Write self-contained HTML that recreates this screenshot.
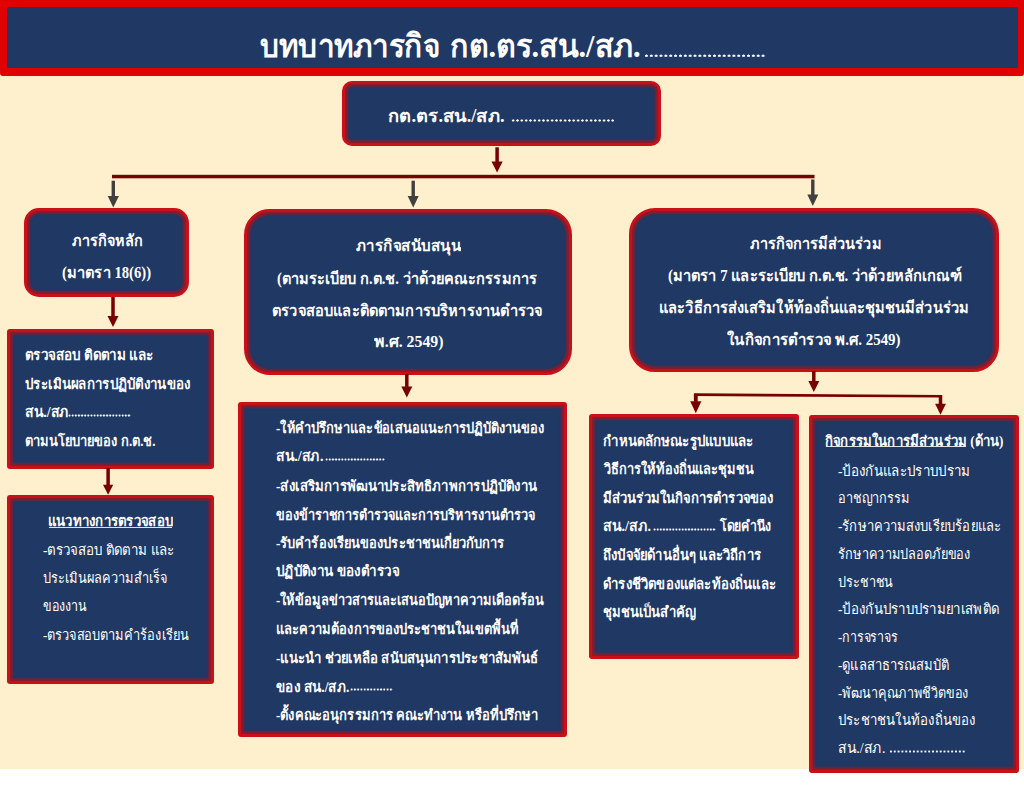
<!DOCTYPE html>
<html><head><meta charset="utf-8"><title>บทบาทภารกิจ กต.ตร.สน./สภ.</title>
<style>
html,body{margin:0;padding:0;width:1024px;height:791px;overflow:hidden;background:#fff;}
body{position:relative;font-family:"Liberation Serif",serif;}
.cream{position:absolute;left:0;top:0;width:1024px;height:769px;background:#fef0cd;}
.banner{position:absolute;left:0;top:0;width:1024px;height:76.4px;box-sizing:border-box;background:#1f3864;border-style:solid;border-color:#e00000;border-width:7.3px 6.5px 8px 7px;border-radius:0 0 3px 3px;}
.bx{position:absolute;box-sizing:border-box;background:#1f3864;border:3.5px solid #c90f17;box-shadow:inset 0 0 2px 2.6px #8e1a2a;}
.t{position:absolute;white-space:nowrap;color:#fff;line-height:40px;height:40px;}
.t span{display:inline-block;transform-origin:0 50%;}
.ul{position:absolute;background:rgba(255,255,255,0.85);}
.dt{position:absolute;background-repeat:repeat-x;background-position:0 0;}
svg{position:absolute;left:0;top:0;}
</style></head><body>
<div class="cream"></div>
<div class="banner"></div>

<div class="bx" style="left:341.5px;top:81.2px;width:319.5px;height:64.8px;border-radius:10px"></div>
<div class="bx" style="left:24.2px;top:208.2px;width:164.8px;height:89.3px;border-radius:15px"></div>
<div class="bx" style="left:244.0px;top:209.4px;width:327.6px;height:165.6px;border-radius:26px"></div>
<div class="bx" style="left:629.2px;top:208.2px;width:369.8px;height:163.8px;border-radius:26px"></div>
<div class="bx" style="left:7.2px;top:328.8px;width:206.5px;height:140.0px;border-radius:3px"></div>
<div class="bx" style="left:6.9px;top:495.2px;width:206.9px;height:189.3px;border-radius:3px"></div>
<div class="bx" style="left:238.4px;top:401.5px;width:328.2px;height:335.3px;border-radius:3px"></div>
<div class="bx" style="left:588.5px;top:414.0px;width:210.5px;height:244.7px;border-radius:3px"></div>
<div class="bx" style="left:809.2px;top:415.0px;width:210.3px;height:357.6px;border-radius:3px"></div>
<svg width="1024" height="791" viewBox="0 0 1024 791"><rect x="495.35" y="147.30" width="3.50" height="14.70" fill="#770000"/><polygon points="491.50,161.50 502.70,161.50 497.10,172.50" fill="#770000"/><rect x="112" y="174.8" width="702.5" height="3.5" fill="#770000"/><rect x="111.60" y="180.70" width="3.40" height="15.70" fill="#404040"/><polygon points="107.70,195.90 118.90,195.90 113.30,207.40" fill="#404040"/><rect x="411.50" y="180.70" width="3.40" height="15.70" fill="#404040"/><polygon points="407.70,195.90 418.70,195.90 413.20,207.40" fill="#404040"/><rect x="811.10" y="179.50" width="3.40" height="15.50" fill="#404040"/><polygon points="807.30,194.50 818.30,194.50 812.80,206.00" fill="#404040"/><rect x="111.25" y="297.00" width="3.50" height="19.50" fill="#770000"/><polygon points="107.50,316.00 118.50,316.00 113.00,327.00" fill="#770000"/><rect x="106.35" y="468.00" width="3.50" height="17.30" fill="#770000"/><polygon points="103.00,484.80 113.20,484.80 108.10,494.80" fill="#770000"/><rect x="405.05" y="374.00" width="3.50" height="12.90" fill="#770000"/><polygon points="401.30,386.40 412.30,386.40 406.80,397.40" fill="#770000"/><rect x="812.05" y="371.00" width="3.50" height="10.60" fill="#770000"/><polygon points="808.30,381.10 819.30,381.10 813.80,392.10" fill="#770000"/><polygon points="694,393.3 941.8,395 941.8,397.4 694,396" fill="#770000"/><rect x="693.90" y="394.00" width="3.80" height="7.70" fill="#770000"/><polygon points="690.20,401.20 701.40,401.20 695.80,413.20" fill="#770000"/><rect x="938.75" y="395.00" width="3.50" height="9.20" fill="#770000"/><polygon points="935.10,403.70 945.90,403.70 940.50,414.70" fill="#770000"/></svg>
<div class="t" style="left:259.50px;top:26.0px;width:180.00px;font-size:32.5px;font-weight:bold"><span style="transform:scaleX(0.9137)">บทบาทภารกิจ</span></div>
<div class="t" style="left:450.00px;top:26.0px;width:190.50px;font-size:32.5px;font-weight:bold"><span style="transform:scaleX(0.9360)">กต.ตร.สน./สภ.</span></div>
<div class="t" style="left:388.00px;top:96.1px;width:116.50px;font-size:18.0px;font-weight:bold"><span style="transform:scaleX(1.0218)">กต.ตร.สน./สภ.</span></div>
<div class="t" style="left:72.00px;top:221.2px;width:71.00px;font-size:16.0px;font-weight:bold"><span style="transform:scaleX(0.8987)">ภารกิจหลัก</span></div>
<div class="t" style="left:62.00px;top:253.0px;width:89.00px;font-size:16.0px;font-weight:bold"><span style="transform:scaleX(0.9146)">(มาตรา 18(6))</span></div>
<div class="t" style="left:355.50px;top:226.0px;width:105.00px;font-size:16.0px;font-weight:bold"><span style="transform:scaleX(0.9459)">ภารกิจสนับสนุน</span></div>
<div class="t" style="left:276.50px;top:258.5px;width:260.00px;font-size:16.0px;font-weight:bold"><span style="transform:scaleX(0.9080)">(ตามระเบียบ ก.ต.ช. ว่าด้วยคณะกรรมการ</span></div>
<div class="t" style="left:271.50px;top:290.8px;width:270.50px;font-size:16.0px;font-weight:bold"><span style="transform:scaleX(0.9139)">ตรวจสอบและติดตามการบริหารงานตำรวจ</span></div>
<div class="t" style="left:374.00px;top:321.8px;width:69.50px;font-size:16.0px;font-weight:bold"><span style="transform:scaleX(0.9882)">พ.ศ. 2549)</span></div>
<div class="t" style="left:749.50px;top:224.0px;width:131.50px;font-size:16.0px;font-weight:bold"><span style="transform:scaleX(0.9007)">ภารกิจการมีส่วนร่วม</span></div>
<div class="t" style="left:667.50px;top:256.3px;width:293.50px;font-size:16.0px;font-weight:bold"><span style="transform:scaleX(0.9134)">(มาตรา 7 และระเบียบ ก.ต.ช. ว่าด้วยหลักเกณฑ์</span></div>
<div class="t" style="left:659.00px;top:288.4px;width:310.00px;font-size:16.0px;font-weight:bold"><span style="transform:scaleX(0.9091)">และวิธีการส่งเสริมให้ท้องถิ่นและชุมชนมีส่วนร่วม</span></div>
<div class="t" style="left:727.00px;top:320.3px;width:173.50px;font-size:16.0px;font-weight:bold"><span style="transform:scaleX(0.9312)">ในกิจการตำรวจ พ.ศ. 2549)</span></div>
<div class="t" style="left:25.00px;top:335.3px;width:128.50px;font-size:14.5px;font-weight:bold"><span style="transform:scaleX(0.9295)">ตรวจสอบ ติดตาม และ</span></div>
<div class="t" style="left:25.00px;top:363.7px;width:165.50px;font-size:14.5px;font-weight:bold"><span style="transform:scaleX(0.9194)">ประเมินผลการปฏิบัติงานของ</span></div>
<div class="t" style="left:25.00px;top:392.0px;width:44.00px;font-size:14.5px;font-weight:bold"><span style="transform:scaleX(0.9637)">สน./สภ</span></div>
<div class="t" style="left:25.00px;top:421.1px;width:130.50px;font-size:14.5px;font-weight:bold"><span style="transform:scaleX(0.8908)">ตามนโยบายของ ก.ต.ช.</span></div>
<div class="t" style="left:47.50px;top:501.4px;width:125.00px;font-size:14.5px;font-weight:bold"><span style="transform:scaleX(0.9124)">แนวทางการตรวจสอบ</span></div>
<div class="t" style="left:43.00px;top:530.3px;width:131.50px;font-size:14.5px;font-weight:normal"><span style="transform:scaleX(0.9190)">-ตรวจสอบ ติดตาม และ</span></div>
<div class="t" style="left:43.00px;top:558.1px;width:124.50px;font-size:14.5px;font-weight:normal"><span style="transform:scaleX(0.8830)">ประเมินผลความสำเร็จ</span></div>
<div class="t" style="left:43.00px;top:585.5px;width:44.00px;font-size:14.5px;font-weight:normal"><span style="transform:scaleX(0.8627)">ของงาน</span></div>
<div class="t" style="left:43.00px;top:614.7px;width:146.00px;font-size:14.5px;font-weight:normal"><span style="transform:scaleX(0.8857)">-ตรวจสอบตามคำร้องเรียน</span></div>
<div class="t" style="left:275.50px;top:408.1px;width:268.00px;font-size:14.5px;font-weight:bold"><span style="transform:scaleX(0.8879)">-ให้คำปรึกษาและข้อเสนอแนะการปฏิบัติงานของ</span></div>
<div class="t" style="left:275.50px;top:436.4px;width:47.50px;font-size:14.5px;font-weight:bold"><span style="transform:scaleX(0.9639)">สน./สภ.</span></div>
<div class="t" style="left:275.50px;top:465.5px;width:261.00px;font-size:14.5px;font-weight:bold"><span style="transform:scaleX(0.9099)">-ส่งเสริมการพัฒนาประสิทธิภาพการปฏิบัติงาน</span></div>
<div class="t" style="left:275.50px;top:494.5px;width:259.50px;font-size:14.5px;font-weight:bold"><span style="transform:scaleX(0.8767)">ของข้าราชการตำรวจและการบริหารงานตำรวจ</span></div>
<div class="t" style="left:275.50px;top:522.9px;width:228.50px;font-size:14.5px;font-weight:bold"><span style="transform:scaleX(0.8896)">-รับคำร้องเรียนของประชาชนเกี่ยวกับการ</span></div>
<div class="t" style="left:275.50px;top:551.0px;width:123.00px;font-size:14.5px;font-weight:bold"><span style="transform:scaleX(0.9274)">ปฏิบัติงาน ของตำรวจ</span></div>
<div class="t" style="left:275.50px;top:580.4px;width:268.00px;font-size:14.5px;font-weight:bold"><span style="transform:scaleX(0.8820)">-ให้ข้อมูลข่าวสารและเสนอปัญหาความเดือดร้อน</span></div>
<div class="t" style="left:275.50px;top:609.2px;width:242.50px;font-size:14.5px;font-weight:bold"><span style="transform:scaleX(0.8915)">และความต้องการของประชาชนในเขตพื้นที่</span></div>
<div class="t" style="left:275.50px;top:638.1px;width:262.50px;font-size:14.5px;font-weight:bold"><span style="transform:scaleX(0.9080)">-แนะนำ ช่วยเหลือ สนับสนุนการประชาสัมพันธ์</span></div>
<div class="t" style="left:275.50px;top:666.5px;width:73.50px;font-size:14.5px;font-weight:bold"><span style="transform:scaleX(0.9315)">ของ สน./สภ.</span></div>
<div class="t" style="left:275.50px;top:694.7px;width:262.00px;font-size:14.5px;font-weight:bold"><span style="transform:scaleX(0.8939)">-ตั้งคณะอนุกรรมการ คณะทำงาน หรือที่ปรึกษา</span></div>
<div class="t" style="left:602.50px;top:420.5px;width:150.50px;font-size:14.5px;font-weight:bold"><span style="transform:scaleX(0.9121)">กำหนดลักษณะรูปแบบและ</span></div>
<div class="t" style="left:603.50px;top:449.1px;width:149.50px;font-size:14.5px;font-weight:bold"><span style="transform:scaleX(0.8794)">วิธีการให้ท้องถิ่นและชุมชน</span></div>
<div class="t" style="left:602.50px;top:477.8px;width:170.50px;font-size:14.5px;font-weight:bold"><span style="transform:scaleX(0.9021)">มีส่วนร่วมในกิจการตำรวจของ</span></div>
<div class="t" style="left:602.50px;top:506.4px;width:48.00px;font-size:14.5px;font-weight:bold"><span style="transform:scaleX(0.9740)">สน./สภ.</span></div>
<div class="t" style="left:602.50px;top:535.1px;width:158.00px;font-size:14.5px;font-weight:bold"><span style="transform:scaleX(0.9048)">ถึงปัจจัยด้านอื่นๆ และวิถีการ</span></div>
<div class="t" style="left:602.50px;top:563.7px;width:173.00px;font-size:14.5px;font-weight:bold"><span style="transform:scaleX(0.9058)">ดำรงชีวิตของแต่ละท้องถิ่นและ</span></div>
<div class="t" style="left:602.50px;top:592.4px;width:92.50px;font-size:14.5px;font-weight:bold"><span style="transform:scaleX(0.8981)">ชุมชนเป็นสำคัญ</span></div>
<div class="t" style="left:824.50px;top:421.2px;width:178.50px;font-size:14.5px;font-weight:bold"><span style="transform:scaleX(0.9047)">กิจกรรมในการมีส่วนร่วม (ด้าน)</span></div>
<div class="t" style="left:838.00px;top:450.6px;width:132.50px;font-size:14.5px;font-weight:normal"><span style="transform:scaleX(0.9211)">-ป้องกันและปราบปราม</span></div>
<div class="t" style="left:838.00px;top:478.3px;width:72.00px;font-size:14.5px;font-weight:normal"><span style="transform:scaleX(0.8780)">อาชญากรรม</span></div>
<div class="t" style="left:838.00px;top:506.1px;width:163.00px;font-size:14.5px;font-weight:normal"><span style="transform:scaleX(0.8964)">-รักษาความสงบเรียบร้อยและ</span></div>
<div class="t" style="left:838.00px;top:533.8px;width:132.50px;font-size:14.5px;font-weight:normal"><span style="transform:scaleX(0.8775)">รักษาความปลอดภัยของ</span></div>
<div class="t" style="left:838.00px;top:561.6px;width:55.00px;font-size:14.5px;font-weight:normal"><span style="transform:scaleX(0.8730)">ประชาชน</span></div>
<div class="t" style="left:838.00px;top:589.3px;width:161.00px;font-size:14.5px;font-weight:normal"><span style="transform:scaleX(0.9156)">-ป้องกันปราบปรามยาเสพติด</span></div>
<div class="t" style="left:838.00px;top:617.1px;width:60.00px;font-size:14.5px;font-weight:normal"><span style="transform:scaleX(0.8591)">-การจราจร</span></div>
<div class="t" style="left:838.00px;top:644.8px;width:111.50px;font-size:14.5px;font-weight:normal"><span style="transform:scaleX(0.9003)">-ดูแลสาธารณสมบัติ</span></div>
<div class="t" style="left:838.00px;top:672.6px;width:130.50px;font-size:14.5px;font-weight:normal"><span style="transform:scaleX(0.8709)">-พัฒนาคุณภาพชีวิตของ</span></div>
<div class="t" style="left:838.00px;top:700.3px;width:137.50px;font-size:14.5px;font-weight:normal"><span style="transform:scaleX(0.9106)">ประชาชนในท้องถิ่นของ</span></div>
<div class="t" style="left:838.00px;top:728.1px;width:47.50px;font-size:14.5px;font-weight:normal"><span style="transform:scaleX(0.9639)">สน./สภ.</span></div>
<div class="t" style="left:719.50px;top:506.4px;width:51.00px;font-size:14.5px;font-weight:bold"><span style="transform:scaleX(0.8500)">โดยคำนึง</span></div>
<div class="dt" style="left:643.66px;top:53.70px;width:121.77px;height:3.60px;background-size:4.871px 3.60px;background-image:radial-gradient(circle at 50% 50%,#fff 1.05px,rgba(255,255,255,0) 1.65px)"></div>
<div class="dt" style="left:510.63px;top:118.90px;width:104.14px;height:3.40px;background-size:4.339px 3.40px;background-image:radial-gradient(circle at 50% 50%,#fff 0.95px,rgba(255,255,255,0) 1.55px)"></div>
<div class="dt" style="left:68.03px;top:413.80px;width:62.74px;height:3.00px;background-size:3.137px 3.00px;background-image:radial-gradient(circle at 50% 50%,#fff 0.75px,rgba(255,255,255,0) 1.35px)"></div>
<div class="dt" style="left:325.32px;top:458.10px;width:60.17px;height:3.00px;background-size:3.167px 3.00px;background-image:radial-gradient(circle at 50% 50%,#fff 0.75px,rgba(255,255,255,0) 1.35px)"></div>
<div class="dt" style="left:349.96px;top:688.00px;width:42.57px;height:3.00px;background-size:3.275px 3.00px;background-image:radial-gradient(circle at 50% 50%,#fff 0.75px,rgba(255,255,255,0) 1.35px)"></div>
<div class="dt" style="left:653.03px;top:527.90px;width:62.63px;height:3.00px;background-size:3.132px 3.00px;background-image:radial-gradient(circle at 50% 50%,#fff 0.75px,rgba(255,255,255,0) 1.35px)"></div>
<div class="dt" style="left:889.08px;top:749.70px;width:76.63px;height:3.00px;background-size:3.832px 3.00px;background-image:radial-gradient(circle at 50% 50%,#fff 0.75px,rgba(255,255,255,0) 1.35px)"></div>
<div class="ul" style="left:48.5px;top:526.6px;width:123.8px;height:1.1px"></div>
<div class="ul" style="left:825.9px;top:446.1px;width:140.1px;height:1.1px"></div>
<script>
(function(){function fit(){var d=document.querySelectorAll('.t');for(var i=0;i<d.length;i++){var s=d[i].firstChild;s.style.transform='none';var w=s.getBoundingClientRect().width;var tw=parseFloat(d[i].style.width);if(w>0)s.style.transform='scaleX('+(tw/w).toFixed(4)+')';}}fit();if(document.fonts&&document.fonts.ready){document.fonts.ready.then(fit);}})();
</script>
</body></html>
